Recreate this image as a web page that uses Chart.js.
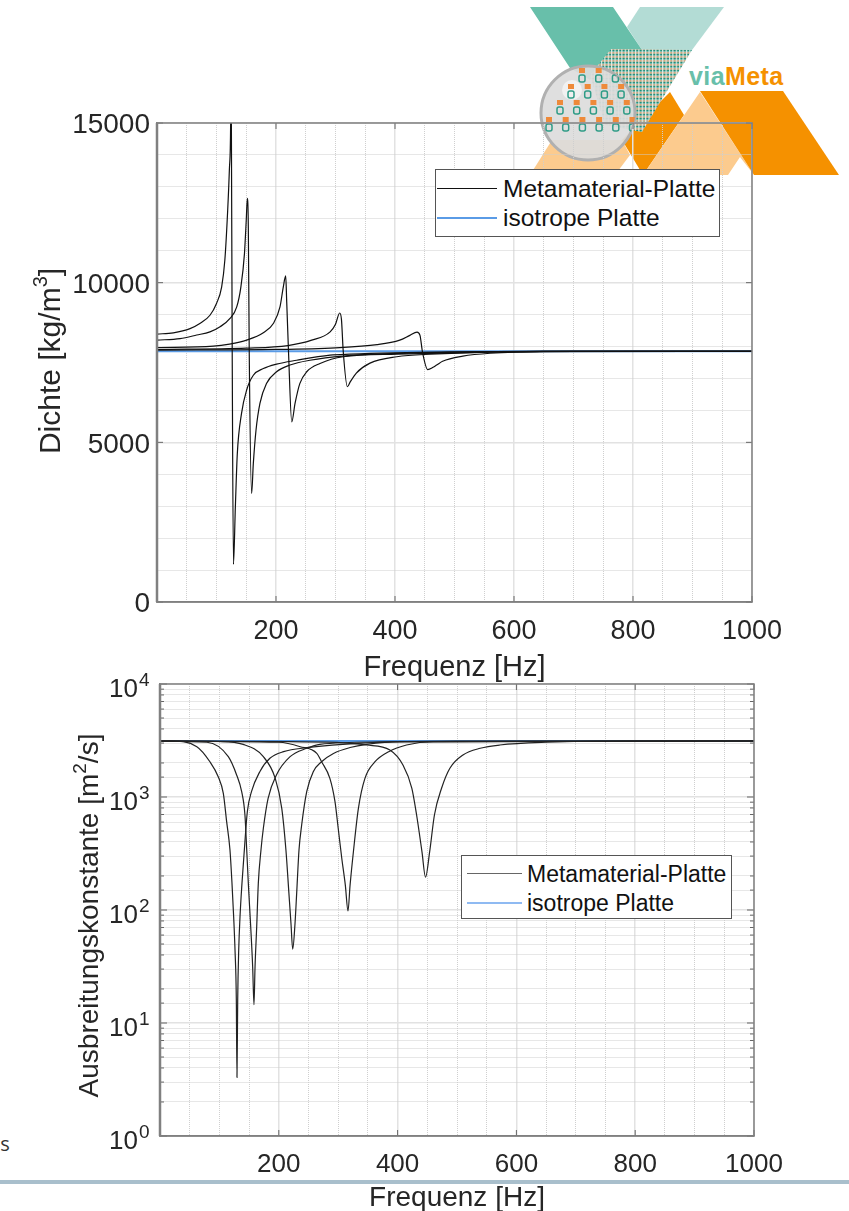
<!DOCTYPE html>
<html>
<head>
<meta charset="utf-8">
<title>Dichte und Ausbreitungskonstante</title>
<script src="https://cdn.jsdelivr.net/npm/chart.js"></script>
<style>
html, body { margin: 0; padding: 0; background: #fff; overflow: hidden; }
#page { position: relative; width: 849px; height: 1211px; overflow: hidden; font-family: "Liberation Sans", Arial, sans-serif; }
#logo, canvas, .legend, #band, #cut { position: absolute; }
#logo { left: 0; top: 0; }
#band { left: 0; top: 1180px; width: 849px; height: 4px; background: #a9bfcc; }
#cut { left: -11px; top: 1130px; font: 20px "Open Sans", sans-serif; color: #333; }
.legend { box-sizing: border-box; background: #fff; border: 1px solid #555; color: #111; white-space: nowrap; }
.legend i { position: absolute; }
.legend span { position: absolute; line-height: 1; }
</style>
</head>
<body>
<div id="page">
  <div id="band"></div>
  <div id="cut">es</div>
  <svg id="logo" width="849" height="200" xmlns="http://www.w3.org/2000/svg">
    <defs>
      <pattern id="dots" width="3.4" height="4" patternUnits="userSpaceOnUse">
        <rect width="3.4" height="4" fill="#e4efe9"/>
        <rect x="0.3" y="0.3" width="2.2" height="1.3" fill="#c98a58"/>
        <rect x="0.3" y="1.8" width="2.2" height="1.8" fill="#1f8f7a"/>
      </pattern>
      <clipPath id="lens"><circle cx="588" cy="113" r="47"/></clipPath>
    </defs>
    <polygon points="640,7 724,7 692,50 642,50 627,27" fill="#b3dcd5"/>
    <polygon points="530,7 613,7 642,50 611,50 590,80 570,68" fill="#68bfaa"/>
    <polygon points="530,175 615,175 630,155 622,140 552,140" fill="#fccb8e"/>
    <polygon points="670,92 684,115 643,175 622,140" fill="#f59100"/>
    <polygon points="700,92 754,175 740,157 728,175 643,175" fill="#fccb8e"/>
    <polygon points="700,91 783,91 839,175 754,175" fill="#f59100"/>
    <polygon points="611,49 692,50 642,132 605,125 590,75" fill="url(#dots)"/>
    <text x="689" y="85" font-family="Liberation Sans, sans-serif" font-weight="700" font-size="25" letter-spacing="0.4" fill="#68bfaa">via<tspan fill="#f59100">Meta</tspan></text>
    <circle cx="588" cy="113" r="47" fill="#dcdcdc" fill-opacity="0.92" stroke="#b0b0b0" stroke-width="3"/>
    <circle cx="572" cy="90" r="10" fill="#fff" fill-opacity="0.55"/>
    <g id="lensRows" clip-path="url(#lens)"></g>
  </svg>
  <canvas id="dichte" width="849" height="685" style="left:0;top:0"></canvas>
  <canvas id="ausbreitung" width="849" height="571" style="left:0;top:640px"></canvas>
  <div class="legend" id="legendDichte" style="left:435px;top:169px;width:285px;height:68px"></div>
  <div class="legend" id="legendAusbreitung" style="left:461px;top:855px;width:271px;height:64px"></div>
</div>
<script>
// Dichte [kg/m3] over frequency, one pair of arrays per resonance
var dichteF1 = [0, 27.5, 55.5, 72, 89, 100, 108.7, 114, 118.8, 121.6, 123.8, 124.4, 125, 126.4, 128.5, 131.7, 135, 142, 150.7, 161.9, 178.7, 201, 234.7, 290.8, 324, 492, 650, 1000];
var dichteV1 = [8390, 8430, 8560, 8720, 8980, 9350, 9870, 10700, 12270, 13520, 15030, 17000, 15000, 7850, 1180, 2980, 4650, 5900, 6640, 7100, 7310, 7450, 7570, 7730, 7760, 7830, 7850, 7850];
var dichteF2 = [0, 38.7, 66.7, 89, 106, 122.7, 134, 141, 147, 150, 151.8, 153.5, 155, 159, 161.9, 166.4, 173, 184, 201, 223.5, 257, 313, 492, 650, 1000];
var dichteV2 = [8200, 8250, 8360, 8460, 8620, 8880, 9240, 9870, 10910, 11960, 12640, 11700, 7850, 3400, 4340, 5380, 6220, 6840, 7210, 7420, 7570, 7700, 7820, 7850, 7850];
var dichteF3 = [0, 94.7, 122, 150.7, 178.7, 195.5, 206.7, 212.3, 216.3, 218, 221, 226.5, 232, 240, 251.6, 274, 313, 403, 576, 700, 1000];
var dichteV3 = [7970, 8010, 8075, 8200, 8430, 8720, 9240, 9870, 10210, 9400, 7850, 5640, 6220, 6840, 7210, 7470, 7680, 7760, 7830, 7850, 7850];
var dichteF4 = [0, 150, 220, 260, 291, 300, 307, 310, 313, 320, 325, 335, 358, 403, 459, 650, 1000];
var dichteV4 = [7910, 7950, 8030, 8200, 8460, 8700, 9050, 8850, 7850, 6740, 6900, 7170, 7480, 7680, 7760, 7850, 7850];
var dichteF5 = [0, 200, 300, 370, 408, 425, 437, 442, 446, 455, 464, 470, 480, 514, 560, 650, 1000];
var dichteV5 = [7890, 7910, 7960, 8060, 8200, 8350, 8450, 8350, 7850, 7280, 7350, 7420, 7540, 7700, 7790, 7840, 7850];
var dichteIsoF = [0, 1000];
var dichteIsoV = [7850, 7850];

// Ausbreitungskonstante [m2/s] over frequency
var ausbrF1 = [0, 17, 62, 84, 98, 106.6, 112.2, 117.8, 121.2, 124, 126.3, 128.5, 129.6, 130.8, 132.5, 134.7, 138, 142, 147, 154, 168, 185, 208, 247, 340, 500, 1000];
var ausbrV1 = [3130, 3130, 2787, 2052, 1513, 1077, 605, 340, 172, 87, 44, 16, 3.3, 16, 44, 87, 172, 340, 741, 1114, 1675, 2200, 2519, 2730, 3000, 3130, 3130];
var ausbrF2 = [0, 79, 115, 129, 137.5, 143, 146, 148.7, 152.7, 156, 158.2, 160, 162.8, 165.5, 170, 174, 182, 196, 219, 247, 269, 370, 1000];
var ausbrV2 = [3130, 3050, 2274, 1567, 1114, 693, 340, 172, 71, 31.5, 14.5, 31.5, 71, 172, 340, 529, 973, 1567, 2274, 2698, 2926, 3070, 3130];
var ausbrF3 = [0, 100, 140, 174, 194, 205, 212, 217, 220.5, 223.4, 227.3, 230.1, 234, 238.5, 247, 258, 272, 292, 320, 348, 404, 1000];
var ausbrV3 = [3130, 3100, 2926, 2274, 1463, 794, 340, 141, 76, 45, 76, 141, 340, 565, 1114, 1675, 2052, 2430, 2740, 2926, 3087, 3130];
var ausbrF4 = [0, 200, 236, 264, 272, 286, 294.6, 300, 306, 312, 316.5, 320, 325.6, 334, 345, 362, 385, 415, 460, 1000];
var ausbrV4 = [3130, 3050, 2787, 2430, 2052, 1463, 909, 529, 287, 166, 98, 166, 328, 794, 1463, 2052, 2519, 2885, 3087, 3130];
var ausbrF5 = [0, 280, 348, 387, 409, 424, 432, 441, 447, 454, 462, 474, 488, 510, 539, 572, 650, 800, 1000];
var ausbrV5 = [3130, 3060, 2885, 2606, 1919, 1194, 693, 328, 195, 328, 693, 1194, 1795, 2353, 2698, 2885, 3050, 3130, 3130];
var ausbrIsoF = [0, 1000];
var ausbrIsoV = [3130, 3130];

var legendLabels = ['Metamaterial-Platte', 'isotrope Platte'];
var xTickLabels = [200, 400, 600, 800, 1000];
var dichteTickLabels = [0, 5000, 10000, 15000];
var ausbrDecades = [1, 10, 100, 1000, 10000];
var ausbrExponents = ['0', '1', '2', '3', '4'];

var textColor = '#262626';
var fontName = '"Liberation Sans", Arial, sans-serif';

function pts(f, v) {
  return f.map(function (x, i) { return { x: x, y: v[i] }; });
}

function curves(pairs, isoF, isoV, lineColor) {
  var sets = pairs.map(function (p) {
    return { label: legendLabels[0], data: pts(p[0], p[1]), borderColor: lineColor, borderWidth: 1.2,
      pointRadius: 0, cubicInterpolationMode: 'monotone' };
  });
  sets.push({ label: legendLabels[1], data: pts(isoF, isoV), borderColor: '#5a9be6', borderWidth: 2, pointRadius: 0 });
  return sets;
}

// frame, inward ticks and the y title with its raised exponent
function framePlugin(cfg) {
  return {
    id: 'frame',
    afterDraw: function (chart) {
      var c = chart.ctx, a = chart.chartArea, sx = chart.scales.x, sy = chart.scales.y;
      c.save();
      c.strokeStyle = '#666';
      c.lineWidth = 1;
      sx.ticks.forEach(function (t) {
        if (xTickLabels.indexOf(t.value) < 0) return;
        var px = sx.getPixelForValue(t.value);
        c.beginPath(); c.moveTo(px, a.bottom); c.lineTo(px, a.bottom - 6);
        c.moveTo(px, a.top); c.lineTo(px, a.top + 6); c.stroke();
      });
      sy.ticks.forEach(function (t) {
        var len = cfg.tickLen(t.value);
        if (!len) return;
        var py = sy.getPixelForValue(t.value);
        c.beginPath(); c.moveTo(a.left, py); c.lineTo(a.left + len, py);
        c.moveTo(a.right, py); c.lineTo(a.right - len, py); c.stroke();
      });
      c.strokeStyle = '#808080';
      c.lineWidth = 1.5;
      c.strokeRect(a.left, a.top, a.right - a.left, a.bottom - a.top);
      c.beginPath(); c.moveTo(a.left, a.top); c.lineTo(a.left, a.bottom); c.lineWidth = 2.5; c.stroke();

      c.fillStyle = textColor;
      c.textBaseline = 'alphabetic';
      c.textAlign = 'left';
      if (cfg.exponents) {
        ausbrDecades.forEach(function (d, i) {
          c.font = '19px ' + fontName;
          c.fillText(ausbrExponents[i], cfg.expX, sy.getPixelForValue(d) + 2);
        });
      }
      c.translate(cfg.titleX, cfg.titleY);
      c.rotate(-Math.PI / 2);
      var big = cfg.titleSize + 'px ' + fontName, small = Math.round(cfg.titleSize * 0.68) + 'px ' + fontName;
      c.font = big;
      var w1 = c.measureText(cfg.title[0]).width, w3 = c.measureText(cfg.title[2]).width;
      c.font = small;
      var w2 = c.measureText(cfg.title[1]).width;
      var s = -(w1 + w2 + w3) / 2;
      c.font = big; c.fillText(cfg.title[0], s, 0); c.fillText(cfg.title[2], s + w1 + w2, 0);
      c.font = small; c.fillText(cfg.title[1], s + w1, -cfg.titleSize * 0.42);
      c.restore();
    }
  };
}

function xAxis(height, fontSize, pad, titleLine) {
  return {
    type: 'linear', min: 0, max: 1000,
    afterBuildTicks: function (s) {
      var list = [];
      for (var v = 0; v <= 1000; v += 50) list.push({ value: v });
      s.ticks = list;
    },
    afterFit: function (s) { s.height = height; },
    ticks: { autoSkip: false, maxRotation: 0, padding: pad, color: textColor,
      font: { size: fontSize, family: fontName },
      callback: function (v) { return xTickLabels.indexOf(v) >= 0 ? String(v) : ''; } },
    grid: { drawTicks: false,
      color: function (c) { return c.tick && c.tick.value % 200 === 0 ? '#e2e2e2' : '#cfcfcf'; },
      lineWidth: function (c) { return c.tick && c.tick.value % 200 === 0 ? 1.5 : 1; } },
    border: { color: '#808080', width: 1.5,
      dash: function (c) { return c.tick && c.tick.value % 200 === 0 ? [] : [1, 1]; } },
    title: { display: true, text: 'Frequenz [Hz]', color: textColor, padding: 0,
      font: { size: titleLine[0], family: fontName, lineHeight: titleLine[1] } }
  };
}

new Chart(document.getElementById('dichte'), {
  type: 'line',
  data: { datasets: curves([[dichteF1, dichteV1], [dichteF2, dichteV2], [dichteF3, dichteV3], [dichteF4, dichteV4], [dichteF5, dichteV5]], dichteIsoF, dichteIsoV, '#111') },
  options: {
    responsive: false, animation: false, events: [],
    layout: { padding: { top: 123, right: 97, left: 0, bottom: 0 } },
    plugins: { legend: { display: false }, tooltip: { enabled: false } },
    scales: {
      x: xAxis(83, 27, 13, [29, 1.2]),
      y: {
        type: 'linear', min: 0, max: 15000,
        afterFit: function (s) { s.width = 157; },
        ticks: { stepSize: 1000, autoSkip: false, padding: 7, color: textColor,
          font: { size: 28, family: fontName, lineHeight: 0.19 },
          callback: function (v) { return dichteTickLabels.indexOf(v) >= 0 ? ['', String(v)] : ''; } },
        grid: { drawTicks: false,
          color: function (c) { return c.tick && c.tick.value % 5000 === 0 ? '#e2e2e2' : '#cfcfcf'; },
          lineWidth: function (c) { return c.tick && c.tick.value % 5000 === 0 ? 1.5 : 1; } },
        border: { color: '#808080', width: 1.5,
          dash: function (c) { return c.tick && c.tick.value % 5000 === 0 ? [] : [1, 1]; } }
      }
    }
  },
  plugins: [framePlugin({
    title: ['Dichte [kg/m', '3', ']'], titleX: 60, titleY: 361, titleSize: 30,
    tickLen: function (v) { return dichteTickLabels.indexOf(v) >= 0 ? 6 : 0; }
  })]
});

new Chart(document.getElementById('ausbreitung'), {
  type: 'line',
  data: { datasets: curves([[ausbrF1, ausbrV1], [ausbrF2, ausbrV2], [ausbrF3, ausbrV3], [ausbrF4, ausbrV4], [ausbrF5, ausbrV5]], ausbrIsoF, ausbrIsoV, '#222') },
  options: {
    responsive: false, animation: false, events: [],
    layout: { padding: { top: 44, right: 95, left: 0, bottom: 0 } },
    plugins: { legend: { display: false }, tooltip: { enabled: false } },
    scales: {
      x: xAxis(75, 26, 13, [28, 0.9]),
      y: {
        type: 'logarithmic', min: 1, max: 10000,
        afterFit: function (s) { s.width = 160; },
        ticks: { autoSkip: false, padding: 22, color: textColor,
          font: { size: 26, family: fontName, lineHeight: 0.46 },
          callback: function (v) { return ausbrDecades.indexOf(v) >= 0 ? ['', '10'] : ''; } },
        grid: { drawTicks: false,
          color: function (c) { return c.tick && ausbrDecades.indexOf(c.tick.value) >= 0 ? '#e2e2e2' : '#cfcfcf'; },
          lineWidth: function (c) { return c.tick && ausbrDecades.indexOf(c.tick.value) >= 0 ? 1.5 : 1; } },
        border: { color: '#808080', width: 1.5,
          dash: function (c) { return c.tick && ausbrDecades.indexOf(c.tick.value) >= 0 ? [] : [1, 1]; } }
      }
    }
  },
  plugins: [framePlugin({
    title: ['Ausbreitungskonstante [m', '2', '/s]'], titleX: 98, titleY: 275.5, titleSize: 28,
    exponents: true, expX: 139,
    tickLen: function (v) { return ausbrDecades.indexOf(v) >= 0 ? 7 : 4; }
  })]
});

// html legends, one row per label
function buildLegend(id, o) {
  var box = document.getElementById(id);
  legendLabels.forEach(function (label, i) {
    var line = document.createElement('i');
    line.style.cssText = 'left:' + o.lineX + 'px;top:' + o.rows[i] + 'px;width:' + o.lineW + 'px;height:' + o.heights[i] + 'px;background:' + o.colors[i];
    box.appendChild(line);
    var text = document.createElement('span');
    text.textContent = label;
    text.style.cssText = 'left:' + o.textX + 'px;top:' + (o.rows[i] - o.size / 2 + 1) + 'px;font-size:' + o.size + 'px';
    box.appendChild(text);
  });
}
buildLegend('legendDichte', { lineX: 1, lineW: 60, textX: 67, size: 24.5, rows: [18, 47], heights: [1, 2], colors: ['#111', '#5a9be6'] });
buildLegend('legendAusbreitung', { lineX: 5, lineW: 55, textX: 65, size: 23, rows: [17, 46], heights: [1, 2], colors: ['#666', '#8fbaf2'] });

// lens artwork of the logo
var lensRows = [[549, 120, 6], [560, 103, 5], [571, 87, 4], [582, 71, 3]];
var lens = document.getElementById('lensRows');
lensRows.forEach(function (r) {
  for (var i = 0; i < r[2]; i++) {
    var x = r[0] + i * 16.7;
    lens.insertAdjacentHTML('beforeend',
      '<rect x="' + (x - 3) + '" y="' + (r[1] - 3) + '" width="6" height="5" fill="#ee8a3a"/>' +
      '<rect x="' + (x - 3) + '" y="' + (r[1] + 4) + '" width="6" height="7" rx="2" fill="none" stroke="#2f9c87" stroke-width="1.5"/>');
  }
});
</script>
</body>
</html>
